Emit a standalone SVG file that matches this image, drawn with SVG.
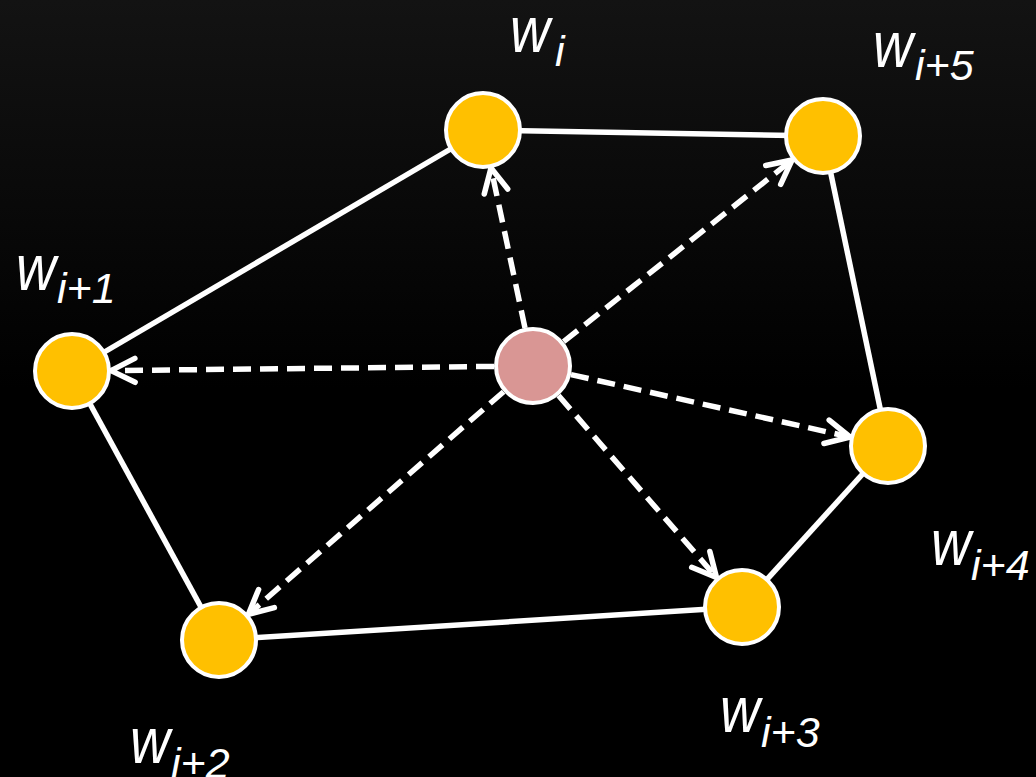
<svg xmlns="http://www.w3.org/2000/svg" width="1036" height="777" viewBox="0 0 1036 777">
<defs>
<linearGradient id="bg" x1="0" y1="0" x2="0" y2="1">
<stop offset="0" stop-color="#131313"/>
<stop offset="0.5" stop-color="#000000"/>
<stop offset="1" stop-color="#000000"/>
</linearGradient>
<marker id="arr" markerUnits="userSpaceOnUse" markerWidth="44" markerHeight="44" viewBox="-32 -22 44 44" refX="0" refY="0" orient="auto">
<path d="M-24,-12 L0,0 L-24,12" fill="none" stroke="#ffffff" stroke-width="5.5" stroke-linecap="round" stroke-linejoin="round"/>
</marker>
</defs>
<style>
.edge{stroke:#ffffff;stroke-width:5.5;fill:none}
.dash{stroke:#ffffff;stroke-width:5.5;fill:none;stroke-dasharray:18 9;marker-end:url(#arr)}
.node{fill:#FFC000;stroke:#ffffff;stroke-width:4}
.center{fill:#D99694;stroke:#ffffff;stroke-width:4}
.lbl{font-family:"Liberation Sans",Arial,sans-serif;font-style:italic;fill:#ffffff}
.w{font-size:64px}
.sub{font-size:43px}
</style>
<rect width="1036" height="777" fill="url(#bg)"/>
<g id="connectors">
<line class="edge" x1="483" y1="130" x2="823" y2="136"/>
<line class="edge" x1="823" y1="136" x2="888" y2="446"/>
<line class="edge" x1="888" y1="446" x2="742" y2="607"/>
<line class="edge" x1="742" y1="607" x2="219" y2="640"/>
<line class="edge" x1="219" y1="640" x2="72" y2="371"/>
<line class="edge" x1="72" y1="371" x2="483" y2="130"/>
<line class="dash" x1="525" y1="328" x2="491" y2="168"/>
<line class="dash" x1="563.6" y1="341.7" x2="792" y2="160"/>
<line class="dash" x1="494" y1="366.4" x2="111" y2="370.6"/>
<line class="dash" x1="571" y1="374.6" x2="850" y2="437"/>
<line class="dash" x1="558.5" y1="395.5" x2="716.5" y2="577.5"/>
<line class="dash" x1="503.6" y1="391.7" x2="248.4" y2="614.3"/>
</g>
<g id="center"><circle class="center" cx="533" cy="366" r="37"/></g>
<g id="wi">
<circle class="node" cx="483" cy="130" r="37"/>
<text class="lbl w" x="510" y="52" textLength="40" lengthAdjust="spacingAndGlyphs">w</text>
<text class="lbl sub" x="555" y="66">i</text>
</g>
<g id="wi5">
<circle class="node" cx="823" cy="136" r="37"/>
<text class="lbl w" x="873" y="67" textLength="40" lengthAdjust="spacingAndGlyphs">w</text>
<text class="lbl sub" x="915" y="80">i+5</text>
</g>
<g id="wi1">
<circle class="node" cx="72" cy="371" r="37"/>
<text class="lbl w" x="16" y="290" textLength="40" lengthAdjust="spacingAndGlyphs">w</text>
<text class="lbl sub" x="57" y="303">i+1</text>
</g>
<g id="wi4">
<circle class="node" cx="888" cy="446" r="37"/>
<text class="lbl w" x="931" y="565" textLength="40" lengthAdjust="spacingAndGlyphs">w</text>
<text class="lbl sub" x="971" y="580">i+4</text>
</g>
<g id="wi3">
<circle class="node" cx="742" cy="607" r="37"/>
<text class="lbl w" x="720" y="732" textLength="40" lengthAdjust="spacingAndGlyphs">w</text>
<text class="lbl sub" x="761" y="747">i+3</text>
</g>
<g id="wi2">
<circle class="node" cx="219" cy="640" r="37"/>
<text class="lbl w" x="130" y="763" textLength="40" lengthAdjust="spacingAndGlyphs">w</text>
<text class="lbl sub" x="171" y="778">i+2</text>
</g>
</svg>
